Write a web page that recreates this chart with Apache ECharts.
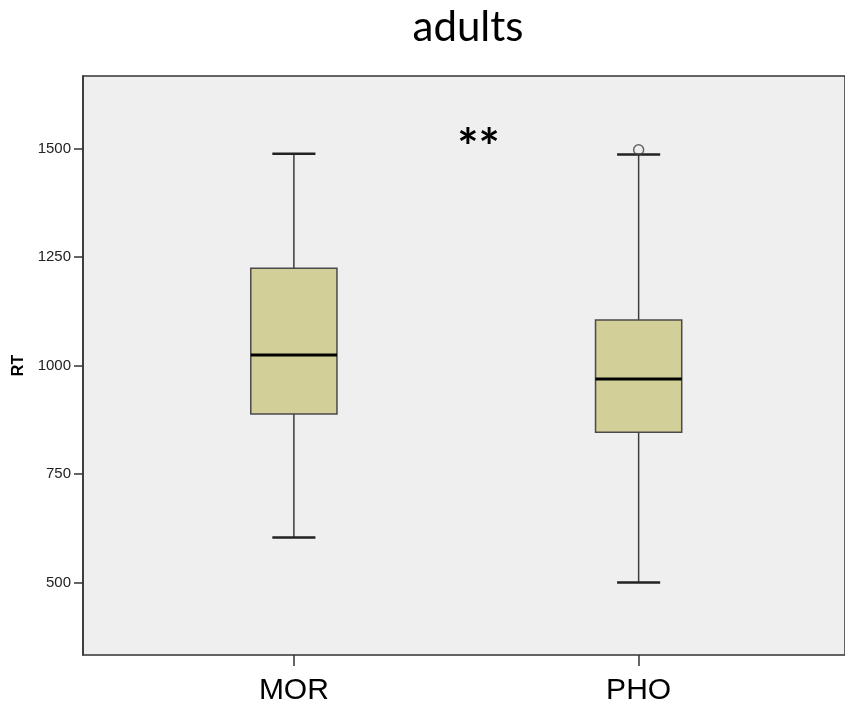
<!DOCTYPE html>
<html>
<head>
<meta charset="utf-8">
<script src="https://cdn.jsdelivr.net/npm/echarts@6/dist/echarts.min.js"></script>
<style>
html,body{margin:0;padding:0;background:#fff;}
#c{width:845px;height:706px;}
</style>
</head>
<body>
<div id="c"></div>
<script>
// ---- data ----
const categories = ['MOR', 'PHO'];
const whiskerLow = [604, 500];
const quart1 = [888, 846];
const medians = [1024, 969];
const quart3 = [1224, 1105];
const whiskerHigh = [1488, 1486];
const outliers = [['PHO', 1497]];
const yTicks = [500, 750, 1000, 1250, 1500];
const yMin = 333, yMax = 1667;
const titleText = 'adults';
const yName = 'RT';
const sigText = '**';

const boxData = categories.map((c, i) => [i, whiskerLow[i], quart1[i], medians[i], quart3[i], whiskerHigh[i]]);

const chart = echarts.init(document.getElementById('c'), null, {renderer: 'canvas'});
const lineCol = '#3c3c3c';

function renderBox(params, api) {
  const x = api.value(0);
  const lo = api.coord([x, api.value(1)]);
  const q1 = api.coord([x, api.value(2)]);
  const md = api.coord([x, api.value(3)]);
  const q3 = api.coord([x, api.value(4)]);
  const hi = api.coord([x, api.value(5)]);
  const band = api.size([1, 0])[0];
  const bw = band * 0.25;
  const cw = bw / 2;
  const cx = md[0];
  return {
    type: 'group',
    children: [
      {type: 'line', shape: {x1: cx, y1: hi[1], x2: cx, y2: q3[1]}, style: {stroke: lineCol, lineWidth: 1.5}},
      {type: 'line', shape: {x1: cx, y1: q1[1], x2: cx, y2: lo[1]}, style: {stroke: lineCol, lineWidth: 1.5}},
      {type: 'line', shape: {x1: cx - cw / 2, y1: hi[1], x2: cx + cw / 2, y2: hi[1]}, style: {stroke: '#222', lineWidth: 2.5}},
      {type: 'line', shape: {x1: cx - cw / 2, y1: lo[1], x2: cx + cw / 2, y2: lo[1]}, style: {stroke: '#222', lineWidth: 2.5}},
      {type: 'rect', shape: {x: cx - bw / 2, y: q3[1], width: bw, height: q1[1] - q3[1]}, style: {fill: '#d3cf99', stroke: '#4a4a4a', lineWidth: 1.5}},
      {type: 'line', shape: {x1: cx - bw / 2, y1: md[1], x2: cx + bw / 2, y2: md[1]}, style: {stroke: '#000', lineWidth: 3}}
    ]
  };
}

const option = {
  animation: false,
  title: {
    text: titleText,
    left: 463, top: 1, textAlign: 'center',
    textStyle: {fontFamily: 'Lato', fontWeight: 'normal', fontSize: 42, color: '#000'}
  },
  grid: [
    {left: 83, right: -5, top: 76, bottom: 51, show: true, backgroundColor: '#efefef', borderColor: '#333', borderWidth: 1.5, containLabel: false},
    {left: 121.5, right: 34, top: 76, bottom: 51, containLabel: false}
  ],
  xAxis: [
    {gridIndex: 0, type: 'value', show: false, min: 0, max: 1},
    {
      gridIndex: 1, type: 'category', data: categories, boundaryGap: true,
      axisLine: {show: false},
      axisTick: {show: true, alignWithLabel: true, length: 11, inside: false, lineStyle: {color: '#333', width: 1.5}},
      axisLabel: {fontFamily: 'Liberation Sans', fontSize: 30, color: '#000', margin: 21},
      splitLine: {show: false}
    }
  ],
  yAxis: [
    {
      gridIndex: 0, type: 'value', min: yMin, max: yMax,
      name: yName, nameLocation: 'middle', nameGap: 55, nameRotate: 90,
      nameTextStyle: {fontFamily: 'Liberation Sans', fontWeight: 'bold', fontSize: 16, color: '#000'},
      axisLine: {show: true, lineStyle: {color: '#333', width: 1.5}},
      axisTick: {show: true, length: 9, inside: false, customValues: yTicks, lineStyle: {color: '#333', width: 1.5}},
      axisLabel: {customValues: yTicks, formatter: v => String(v), fontFamily: 'Liberation Sans', fontSize: 15, color: '#222', margin: 12},
      splitLine: {show: false}
    },
    {gridIndex: 1, type: 'value', min: yMin, max: yMax, show: false, splitLine: {show: false}}
  ],
  series: [
    {
      type: 'custom', xAxisIndex: 1, yAxisIndex: 1,
      renderItem: renderBox,
      encode: {x: 0, y: [1, 2, 3, 4, 5]},
      data: boxData
    },
    {
      type: 'scatter', xAxisIndex: 1, yAxisIndex: 1,
      symbol: 'circle', symbolSize: 10,
      itemStyle: {color: 'rgba(0,0,0,0)', borderColor: '#444', borderWidth: 1.5},
      data: outliers
    }
  ],
  graphic: [
    {type: 'text', x: 478.5, y: 124, style: {text: sigText, font: 'bold 50px Lato', fill: '#000', textAlign: 'center', textVerticalAlign: 'top'}}
  ]
};
chart.setOption(option);
</script>
</body>
</html>
